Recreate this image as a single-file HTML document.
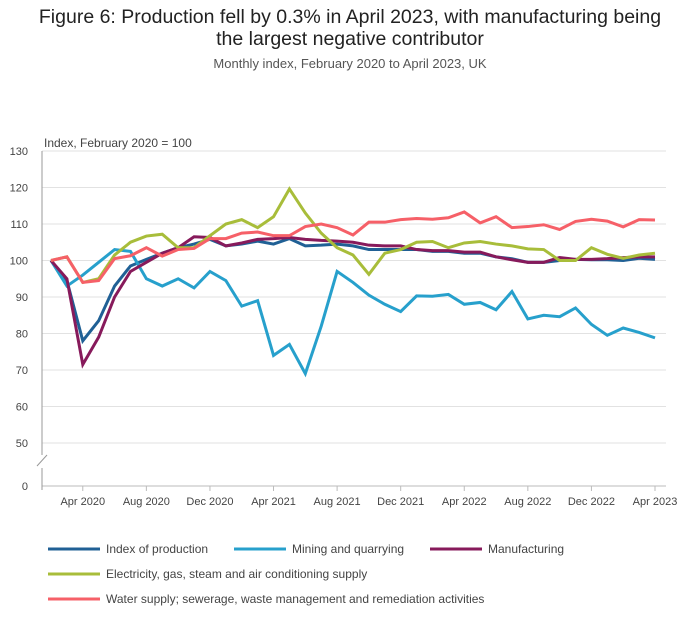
<!DOCTYPE html>
<html><head><meta charset="utf-8"><style>
body{margin:0;background:#fff;font-family:"Liberation Sans",sans-serif;}
#wrap{position:relative;width:700px;height:635px;overflow:hidden}
.t{position:absolute;left:0;width:700px;text-align:center;color:#222}
</style></head><body>
<div id="wrap">
<div class="t" style="top:6px;font-size:19.5px;line-height:22px">Figure 6: Production fell by 0.3% in April 2023, with manufacturing being<br>the largest negative contributor</div>
<div class="t" style="top:56px;font-size:13px;color:#555">Monthly index, February 2020 to April 2023, UK</div>
<svg id="c" width="700" height="635" style="position:absolute;left:0;top:0"></svg>
</div>
<script>
const months=["Feb 2020","Mar 2020","Apr 2020","May 2020","Jun 2020","Jul 2020","Aug 2020","Sep 2020","Oct 2020","Nov 2020","Dec 2020","Jan 2021","Feb 2021","Mar 2021","Apr 2021","May 2021","Jun 2021","Jul 2021","Aug 2021","Sep 2021","Oct 2021","Nov 2021","Dec 2021","Jan 2022","Feb 2022","Mar 2022","Apr 2022","May 2022","Jun 2022","Jul 2022","Aug 2022","Sep 2022","Oct 2022","Nov 2022","Dec 2022","Jan 2023","Feb 2023","Mar 2023","Apr 2023"];
const production=[100,94.5,78,83.5,93,98.5,100.3,102,103.5,104.5,105.8,104,104.5,105.3,104.5,106,104,104.2,104.5,104,103,103,103,103,102.5,102.5,102,102,101,100.5,99.5,99.5,100,100.3,100.2,100.2,100,100.6,100.3];
const mining=[100,93,96,99.5,103,102.5,95,93,95,92.5,97,94.5,87.5,89,74,77,69,82,97,94,90.5,88,86,90.3,90.2,90.7,88,88.5,86.5,91.5,84,85,84.6,87,82.5,79.5,81.5,80.3,78.8];
const manufacturing=[100,95,71.5,79,90,97,99.5,102,103.5,106.5,106.3,104,104.8,105.8,106,106.3,105.8,105.5,105.3,105,104.2,104,104,103,102.7,102.7,102.3,102.3,101,100.2,99.5,99.5,100.8,100.3,100.3,100.5,100.8,101,101];
const electricity=[100,101,94,95,101.5,105,106.7,107.2,103.5,103.5,106.8,110,111.2,109,112,119.6,113,107.5,103.5,101.5,96.2,102,103,105,105.2,103.5,104.8,105.2,104.5,104,103.2,103,100,100,103.5,101.7,100.6,101.5,102];
const water=[100,101,94,94.5,100.5,101.3,103.5,101.2,103,103.3,106,106,107.5,107.8,106.8,106.8,109.3,110,109,107,110.5,110.5,111.2,111.5,111.3,111.7,113.3,110.3,112,109,109.3,109.8,108.5,110.7,111.3,110.8,109.2,111.2,111.1];
const yTicks=[50,60,70,80,90,100,110,120,130];
const xTickIdx=[2,6,10,14,18,22,26,30,34,38];
const series=[
 {name:"index-of-production",label:"Index of production",data:production,color:"#206095"},
 {name:"mining-and-quarrying",label:"Mining and quarrying",data:mining,color:"#27a0cc"},
 {name:"manufacturing",label:"Manufacturing",data:manufacturing,color:"#871a5b"},
 {name:"electricity-gas-steam",label:"Electricity, gas, steam and air conditioning supply",data:electricity,color:"#a8bd3a"},
 {name:"water-supply",label:"Water supply; sewerage, waste management and remediation activities",data:water,color:"#f66068"}];
const NS="http://www.w3.org/2000/svg",svg=document.getElementById('c');
const x=i=>51+i*(604/38);
const y=v=>260.5-(v-100)*3.65;
function mk(t,a,p){const e=document.createElementNS(NS,t);for(const k in a)e.setAttribute(k,a[k]);(p||svg).appendChild(e);return e;}
let lab=mk('text',{x:44,y:147,'font-size':12,fill:'#444'});lab.textContent="Index, February 2020 = 100";


yTicks.forEach(v=>{const g=mk('line',{x1:42,x2:666,y1:y(v),y2:y(v),stroke:'#e2e2e2','stroke-width':1});


const t=mk('text',{x:28,y:y(v)+4,'font-size':11,fill:'#444','text-anchor':'end'});t.textContent=v;

});
let z=mk('text',{x:28,y:490,'font-size':11,fill:'#444','text-anchor':'end'});z.textContent="0";


mk('line',{x1:42,x2:666,y1:486,y2:486,stroke:'#bbb'});
mk('line',{x1:42,x2:42,y1:151,y2:455,stroke:'#999'});
mk('line',{x1:42,x2:42,y1:468,y2:490,stroke:'#999'});
mk('line',{x1:37,x2:47,y1:466,y2:455,stroke:'#999'});
xTickIdx.forEach(i=>{mk('line',{x1:x(i),x2:x(i),y1:486,y2:491,stroke:'#bbb'});
const t=mk('text',{x:x(i),y:505,'font-size':11,fill:'#444','text-anchor':'middle'});t.textContent=months[i].replace('Feb','Feb');

});
series.forEach(s=>{const p=mk('polyline',{points:s.data.map((v,i)=>x(i)+','+y(v)).join(' '),fill:'none',stroke:s.color,'stroke-width':3,'stroke-linejoin':'miter'});

});
const leg=[[48,549],[234,549],[430,549],[48,574],[48,599]];
series.forEach((s,k)=>{const [lx,ly]=leg[k];
const g=mk('g',{});


mk('line',{x1:lx,x2:lx+52,y1:ly,y2:ly,stroke:s.color,'stroke-width':3},g);
const t=mk('text',{x:lx+58,y:ly+4,'font-size':12,fill:'#444'},g);t.textContent=s.label;});
</script></body></html>
